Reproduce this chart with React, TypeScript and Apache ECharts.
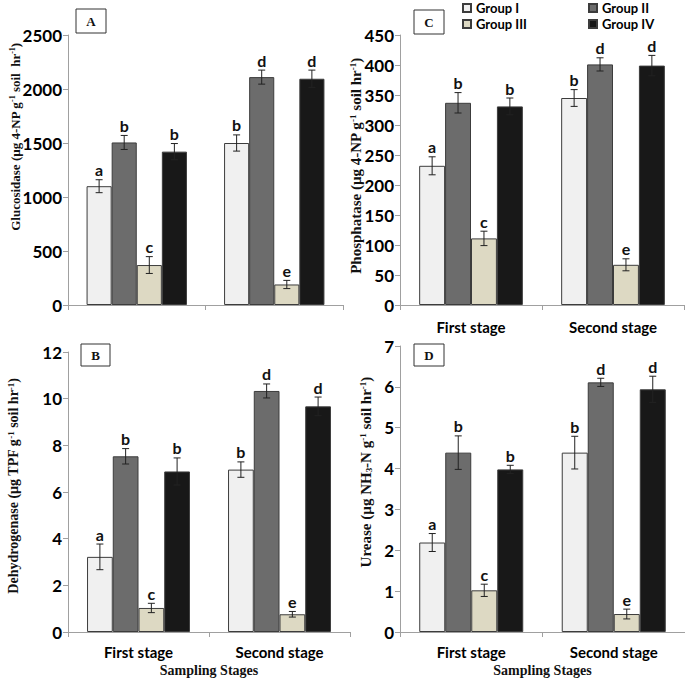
import React, { useEffect, useRef } from 'react';
import * as echarts from 'echarts';

const stages = ['First stage', 'Second stage'];
const groups = ['Group I', 'Group II', 'Group III', 'Group IV'];
const groupColors = ['#f0f0f0', '#6c6c6c', '#ddd9c3', '#181818'];
// significance letters [group][stage]
const letters = [['a', 'b'], ['b', 'd'], ['c', 'e'], ['b', 'd']];

// values [group][stage]
const glucosidaseMean = [[1100, 1500], [1505, 2110], [370, 190], [1420, 2095]];
const glucosidaseErr = [[60, 75], [65, 65], [78, 38], [75, 80]];
const phosphataseMean = [[232, 345], [337, 401], [111, 67], [331, 399]];
const phosphataseErr = [[15, 14], [17, 11], [12, 10], [14, 17]];
const dehydrogenaseMean = [[3.22, 6.96], [7.53, 10.33], [1.03, 0.76], [6.88, 9.67]];
const dehydrogenaseErr = [[0.55, 0.33], [0.33, 0.3], [0.2, 0.12], [0.58, 0.4]];
const ureaseMean = [[2.19, 4.39], [4.39, 6.11], [1.02, 0.44], [3.98, 5.94]];
const ureaseErr = [[0.22, 0.4], [0.41, 0.1], [0.15, 0.12], [0.1, 0.32]];

const yMaxes = [2500, 450, 12, 7];
const yIntervals = [500, 50, 2, 1];
const xTitle = 'Sampling Stages';

const GAP = 0.27;
const axisGray = '#a0a0a0';
const sansBold = { fontFamily: 'Lato', fontWeight: 'bold' as const, color: '#000' };
const serif = 'Liberation Serif';

const panels = [
  { mean: glucosidaseMean, err: glucosidaseErr, grid: { left: 68, top: 35, width: 275, height: 270 }, showX: false, name: '' },
  { mean: phosphataseMean, err: phosphataseErr, grid: { left: 400, top: 35, width: 284, height: 270 }, showX: true, name: '' },
  { mean: dehydrogenaseMean, err: dehydrogenaseErr, grid: { left: 68, top: 352, width: 282, height: 280 }, showX: true, name: xTitle },
  { mean: ureaseMean, err: ureaseErr, grid: { left: 400, top: 346, width: 285, height: 286 }, showX: true, name: xTitle },
];

function yTitle(x: number, y: number, text: string, size: number) {
  return {
    type: 'text',
    x,
    y,
    rotation: Math.PI / 2,
    style: {
      text,
      align: 'center',
      verticalAlign: 'middle',
      rich: {
        t: { fontFamily: serif, fontWeight: 'bold', fontSize: size, fill: '#111' },
        s: { fontFamily: serif, fontWeight: 'bold', fontSize: Math.round(size * 0.62), fill: '#111', verticalAlign: 'top' },
        b: { fontFamily: serif, fontWeight: 'bold', fontSize: Math.round(size * 0.62), fill: '#111', verticalAlign: 'bottom' },
      },
    },
  };
}

function box(x: number, y: number, w: number, h: number, label: string) {
  return {
    type: 'group',
    children: [
      { type: 'rect', shape: { x, y, width: w, height: h }, style: { fill: '#fff', stroke: '#333', lineWidth: 1 } },
      {
        type: 'text',
        x: x + w / 2,
        y: y + h / 2,
        style: { text: label, align: 'center', verticalAlign: 'middle', font: `bold 13px "${serif}"`, fill: '#111' },
      },
    ],
  };
}

function buildOption() {
  const grid: any[] = [];
  const xAxis: any[] = [];
  const yAxis: any[] = [];
  const series: any[] = [];

  panels.forEach((p, i) => {
    grid.push({ ...p.grid });
    xAxis.push({
      type: 'category',
      gridIndex: i,
      data: stages,
      axisLine: { lineStyle: { color: axisGray, width: 1 } },
      axisTick: { show: true, length: 5, lineStyle: { color: axisGray } },
      axisLabel: { show: p.showX, ...sansBold, fontSize: 15, margin: i === 1 ? 14 : 12 },
      name: p.name,
      nameLocation: 'middle',
      nameGap: 38,
      nameTextStyle: { fontFamily: serif, fontWeight: 'bold', fontSize: 14, color: '#111', verticalAlign: 'middle' },
    });
    yAxis.push({
      type: 'value',
      gridIndex: i,
      min: 0,
      max: yMaxes[i],
      interval: yIntervals[i],
      splitLine: { show: false },
      axisLine: { show: true, lineStyle: { color: axisGray, width: 1 } },
      axisTick: { show: true, length: 5, lineStyle: { color: axisGray } },
      axisLabel: { ...sansBold, fontSize: 17, margin: 6, formatter: (v: number) => String(v) },
    });
    groups.forEach((g, gi) => {
      series.push({
        type: 'bar',
        name: g,
        xAxisIndex: i,
        yAxisIndex: i,
        data: p.mean[gi],
        barGap: '0%',
        barCategoryGap: `${GAP * 100}%`,
        itemStyle: { color: groupColors[gi], borderColor: '#3c3c3c', borderWidth: 1 },
      });
    });
    const rows: number[][] = [];
    const lab: string[] = [];
    groups.forEach((_, gi) => {
      stages.forEach((__, si) => {
        rows.push([si, gi, p.mean[gi][si], p.err[gi][si]]);
        lab.push(letters[gi][si]);
      });
    });
    series.push({
      type: 'custom',
      name: 'err' + i,
      xAxisIndex: i,
      yAxisIndex: i,
      data: rows,
      encode: { x: 0, y: 2 },
      z: 5,
      renderItem: (params: any, api: any) => {
        const s = api.value(0);
        const g = api.value(1);
        const m = api.value(2);
        const e = api.value(3);
        const band = api.size([1, 0])[0];
        const barW = (band * (1 - GAP)) / 4;
        const cx = api.coord([s, m])[0] + (g - 1.5) * barW;
        const yT = api.coord([s, m + e])[1];
        const yB = api.coord([s, m - e])[1];
        const cap = 3.5;
        const st = { stroke: '#222', lineWidth: 1 };
        return {
          type: 'group',
          children: [
            { type: 'line', shape: { x1: cx, y1: yT, x2: cx, y2: yB }, style: st },
            { type: 'line', shape: { x1: cx - cap, y1: yT, x2: cx + cap, y2: yT }, style: st },
            { type: 'line', shape: { x1: cx - cap, y1: yB, x2: cx + cap, y2: yB }, style: st },
            {
              type: 'text',
              x: cx,
              y: yT - 2,
              style: {
                text: lab[params.dataIndex],
                align: 'center',
                verticalAlign: 'bottom',
                font: 'bold 16px Lato',
                fill: '#111',
              },
            },
          ],
        };
      },
    });
  });

  const legendCommon = {
    orient: 'vertical',
    top: 0,
    padding: 0,
    itemGap: 0,
    itemWidth: 8,
    itemHeight: 8,
    icon: 'rect',
    textStyle: { ...sansBold, fontSize: 13, lineHeight: 16 },
  };

  return {
    animation: false,
    textStyle: { fontFamily: 'Lato' },
    legend: [
      { ...legendCommon, left: 462, data: ['Group I', 'Group III'] },
      { ...legendCommon, left: 588, data: ['Group II', 'Group IV'] },
    ],
    grid,
    xAxis,
    yAxis,
    series,
    graphic: [
      box(76, 9, 30, 24, 'A'),
      box(414, 10, 30, 24, 'C'),
      box(81, 344, 29, 22, 'B'),
      box(414, 344, 30, 22, 'D'),
      yTitle(15, 137, '{t|Glucosidase (µg 4-NP g}{s|-1}{t| soil  hr}{s|-1}{t|)}', 13),
      yTitle(356, 166, '{t|Phosphatase (µg 4-NP g}{s|-1}{t| soil hr}{s|-1}{t|)}', 15),
      yTitle(13, 486, '{t|Dehydrogenase (µg TPF g}{s|-1}{t| soil hr}{s|-1}{t|)}', 14),
      yTitle(366, 472, '{t|Urease (µg NH}{b|3}{t|-N g}{s|-1}{t| soil hr}{s|-1}{t|)}', 15),
    ],
  };
}

export default function App() {
  const ref = useRef<HTMLDivElement>(null);
  useEffect(() => {
    if (!ref.current) return;
    const chart = echarts.init(ref.current, undefined, { renderer: 'svg' });
    chart.setOption(buildOption() as any);
    return () => chart.dispose();
  }, []);
  return (
    <div
      ref={ref}
      style={{ position: 'fixed', left: 0, top: 0, width: 685, height: 679, background: '#fff' }}
    />
  );
}
